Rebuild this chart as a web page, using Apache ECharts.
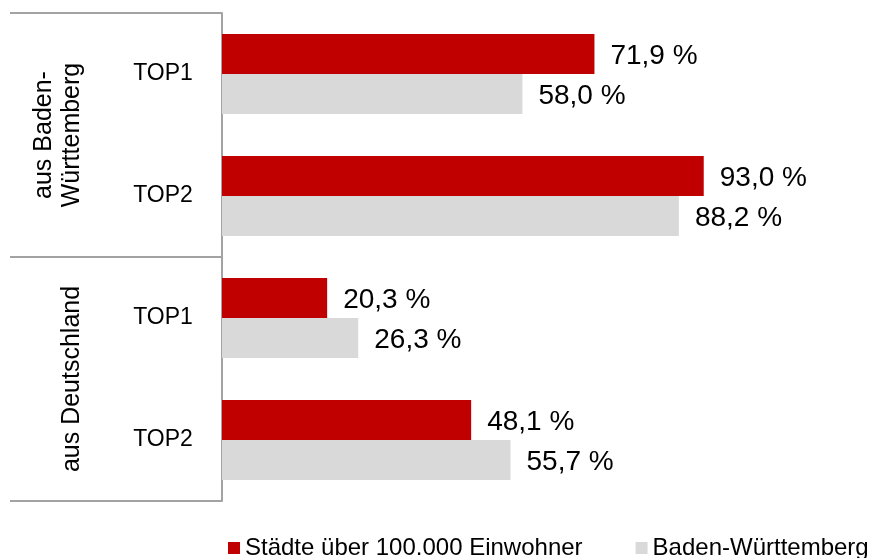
<!DOCTYPE html>
<html>
<head>
<meta charset="utf-8">
<script src="https://cdn.jsdelivr.net/npm/echarts@6/dist/echarts.min.js"></script>
<style>
  html, body { margin: 0; padding: 0; background: #fff; }
  #chart { width: 870px; height: 558px; }
</style>
</head>
<body>
<div id="chart"></div>
<script>
// categories (top to bottom)
const categories = ['TOP1', 'TOP2', 'TOP1', 'TOP2'];
const groups = ['aus Baden-\nWürttemberg', 'aus Deutschland'];

// series values in %
const staedteValues = [71.9, 93.0, 20.3, 48.1];
const bwValues = [58.0, 88.2, 26.3, 55.7];

const seriesNames = ['Städte über 100.000 Einwohner', 'Baden-Württemberg'];

const FONT = 'Liberation Sans, Arial, sans-serif';
const lineColor = '#a3a3a3';

function fmt(p) {
  return p.value.toFixed(1).replace('.', ',') + ' %';
}

const chart = echarts.init(document.getElementById('chart'));

const option = {
  animation: false,
  textStyle: { fontFamily: FONT },
  grid: { left: 222, top: 13, width: 518, bottom: 57 },
  legend: {
    left: 223,
    top: 531,
    width: 680,
    icon: 'rect',
    itemWidth: 12,
    itemHeight: 12,
    itemGap: 53,
    textStyle: { fontSize: 24, color: '#000', fontFamily: FONT, lineHeight: 24 },
    data: seriesNames
  },
  xAxis: {
    type: 'value',
    min: 0,
    max: 100,
    show: false
  },
  yAxis: [
    {
      type: 'category',
      inverse: true,
      data: categories,
      axisLine: { show: true, lineStyle: { color: lineColor, width: 2 } },
      axisTick: { show: false },
      axisLabel: {
        fontSize: 23,
        color: '#000',
        fontFamily: FONT,
        align: 'center',
        margin: 59
      }
    },
    {
      type: 'category',
      inverse: true,
      position: 'left',
      data: groups,
      axisLine: { show: false },
      axisTick: { show: true, length: 212, lineStyle: { color: lineColor, width: 2 } },
      axisLabel: {
        rotate: 90,
        fontSize: 25,
        lineHeight: 28,
        color: '#000',
        fontFamily: FONT,
        align: 'center',
        verticalAlign: 'middle',
        margin: 164,
        // single-line group label sits in the second line slot, like the original
        formatter: (v) => (v.indexOf('\n') < 0 ? ' \n' + v : v)
      }
    }
  ],
  series: [
    {
      name: seriesNames[0],
      type: 'bar',
      yAxisIndex: 0,
      data: staedteValues,
      barWidth: 40,
      barGap: '0%',
      itemStyle: { color: '#C00000' },
      label: {
        show: true,
        position: 'right',
        distance: 16,
        offset: [0, 2],
        fontSize: 28,
        color: '#000',
        fontFamily: FONT,
        formatter: fmt
      }
    },
    {
      name: seriesNames[1],
      type: 'bar',
      yAxisIndex: 0,
      data: bwValues,
      barWidth: 40,
      barGap: '0%',
      itemStyle: { color: '#D9D9D9' },
      label: {
        show: true,
        position: 'right',
        distance: 16,
        offset: [0, 2],
        fontSize: 28,
        color: '#000',
        fontFamily: FONT,
        formatter: fmt
      }
    }
  ]
};

chart.setOption(option);
</script>
</body>
</html>
